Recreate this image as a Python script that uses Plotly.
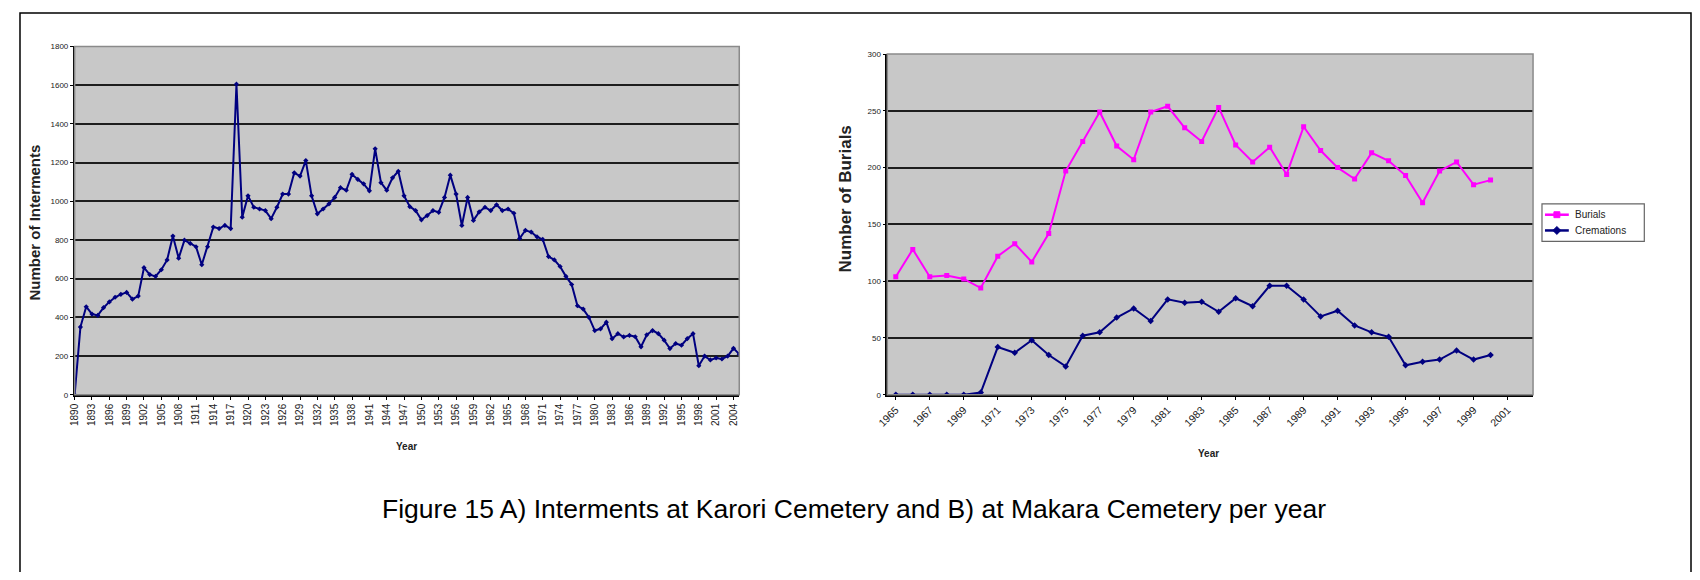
import plotly.graph_objects as go

# ---------------- data ----------------
karori_years = list(range(1890, 2006))
karori_interments = [
    0, 350, 455, 417, 410, 450, 480, 504, 519, 529,
    494, 510, 657, 621, 612, 646, 697, 820, 706, 799,
    782, 765, 672, 765, 867, 859, 875, 859, 1605, 918,
    1028, 969, 960, 952, 910, 969, 1037, 1037, 1147, 1130,
    1210, 1028, 935, 960, 986, 1020, 1070, 1057, 1139, 1113,
    1090, 1054, 1271, 1096, 1057, 1121, 1155, 1028, 972, 952,
    904, 926, 952, 943, 1020, 1135, 1037, 875, 1020, 901,
    945, 969, 952, 982, 952, 960, 938, 808, 850, 841,
    816, 803, 714, 697, 663, 612, 570, 460, 443, 400,
    332, 341, 375, 290, 316, 299, 307, 300, 248, 310,
    332, 316, 282, 239, 265, 256, 290, 316, 150, 200,
    180, 190, 185, 200, 240, 210,
]
karori_ticks = karori_years[::3]

makara_categories = list(range(1965, 2003))
makara_years = makara_categories[:36]
makara_burials = [
    104, 128, 104, 105, 102, 94, 122, 133, 117, 142,
    197, 223, 249, 219, 207, 249, 254, 235, 223, 253,
    220, 205, 218, 194, 236, 215, 200, 190, 213, 206,
    193, 169, 197, 205, 185, 189,
]
makara_cremations = [
    0, 0, 0, 0, 0, 2, 42, 37, 48, 35,
    25, 52, 55, 68, 76, 65, 84, 81, 82, 73,
    85, 78, 96, 96, 84, 69, 74, 61, 55, 51,
    26, 29, 31, 39, 31, 35,
]
makara_ticks = makara_categories[::2]
series_names = ["Burials", "Cremations"]

# figure sized to fit the 1700x580 window inside the page's 8px body margin
OFF = 8
FW, FH = 1700 - 2 * OFF, 580 - 2 * OFF
FONT = "Liberation Sans, Arial, sans-serif"
NAVY = "#000080"
MAGENTA = "#FF00FF"
PLOT_BG = "#C8C8C8"
GRID = "#1e1e1e"


def px_x(x):
    return (x - OFF) / FW


def px_y(y):
    return 1 - (y - OFF) / FH


fig = go.Figure()

fig.add_trace(go.Scatter(
    x=karori_years, y=karori_interments, mode="lines+markers",
    line=dict(color=NAVY, width=2), marker=dict(symbol="diamond", size=4, color=NAVY),
    showlegend=False, xaxis="x", yaxis="y",
))

series_styles = [
    dict(color=MAGENTA, symbol="square", values=makara_burials),
    dict(color=NAVY, symbol="diamond", values=makara_cremations),
]
for name, st in zip(series_names, series_styles):
    fig.add_trace(go.Scatter(
        x=makara_years, y=st["values"], mode="lines+markers", name=name,
        line=dict(color=st["color"], width=2),
        marker=dict(symbol=st["symbol"], size=5, color=st["color"]),
        showlegend=False, xaxis="x2", yaxis="y2",
    ))

tickfont_small = dict(family=FONT, size=8, color="#222")

fig.update_layout(
    width=FW, height=FH,
    margin=dict(l=0, r=0, t=0, b=0),
    paper_bgcolor="white",
    plot_bgcolor=PLOT_BG,
    font=dict(family=FONT, color="#222"),
    showlegend=False,
    xaxis=dict(
        domain=[px_x(64), px_x(733)], anchor="y",
        range=[karori_years[0], karori_years[-1]],
        tickmode="array", tickvals=karori_ticks, ticktext=[str(t) for t in karori_ticks],
        tickangle=-90, tickfont=dict(family=FONT, size=10, color="#222"),
        showgrid=False, showline=True, linecolor="black", linewidth=2,
        ticks="outside", ticklen=3, tickcolor="black", zeroline=False,
    ),
    yaxis=dict(
        domain=[px_y(397), px_y(43)], anchor="x",
        range=[0, 1800], dtick=200, tickfont=tickfont_small,
        showgrid=True, gridcolor=GRID, gridwidth=1.5,
        showline=True, linecolor="black", linewidth=1.5,
        ticks="outside", ticklen=3, tickcolor="black", zeroline=False,
    ),
    xaxis2=dict(
        domain=[px_x(882), px_x(1532)], anchor="y2",
        range=[makara_categories[0] - 0.5, makara_categories[-1] + 0.5],
        tickmode="array", tickvals=makara_ticks, ticktext=[str(t) for t in makara_ticks],
        tickangle=-45, tickfont=dict(family=FONT, size=10.5, color="#222"),
        showgrid=False, showline=True, linecolor="black", linewidth=2,
        ticks="outside", ticklen=3, tickcolor="black", zeroline=False,
    ),
    yaxis2=dict(
        domain=[px_y(397), px_y(50.7)], anchor="x2",
        range=[0, 300], dtick=50, tickfont=tickfont_small,
        showgrid=True, gridcolor=GRID, gridwidth=1.5,
        showline=True, linecolor="black", linewidth=1.5,
        ticks="outside", ticklen=3, tickcolor="black", zeroline=False,
    ),
)

# plot-area borders (top/right in gray)
for x0, x1, y0, y1 in [(64, 733, 43, 397), (882, 1532, 50.7, 397)]:
    fig.add_shape(type="rect", xref="paper", yref="paper",
                  x0=px_x(x0), x1=px_x(x1), y0=px_y(y1), y1=px_y(y0),
                  line=dict(color="#8a8a8a", width=1.5), layer="above")

# outer frame (left, top, right)
fig.add_shape(type="path", xref="paper", yref="paper",
              path=f"M {px_x(9)} -0.1 L {px_x(9)} {px_y(9)} L {px_x(1691)} {px_y(9)} L {px_x(1691)} -0.1",
              line=dict(color="black", width=1.5))

# ---- compact legend box (Excel style) ----
fig.add_shape(type="rect", xref="paper", yref="paper",
              x0=px_x(1541), x1=px_x(1644), y0=px_y(241), y1=px_y(203),
              line=dict(color="#666", width=1.2), fillcolor="white")
for i, (name, st) in enumerate(zip(series_names, series_styles)):
    yy = 214 + i * 16
    fig.add_shape(type="line", xref="paper", yref="paper",
                  x0=px_x(1544), x1=px_x(1568), y0=px_y(yy), y1=px_y(yy),
                  line=dict(color=st["color"], width=2.5))
    cx, cy = 1556, yy
    if st["symbol"] == "square":
        fig.add_shape(type="rect", xref="paper", yref="paper",
                      x0=px_x(cx - 3), x1=px_x(cx + 3), y0=px_y(cy + 3), y1=px_y(cy - 3),
                      line=dict(color=st["color"], width=1), fillcolor=st["color"])
    else:
        fig.add_shape(type="path", xref="paper", yref="paper",
                      path=(f"M {px_x(cx - 4)} {px_y(cy)} L {px_x(cx)} {px_y(cy - 4)} "
                            f"L {px_x(cx + 4)} {px_y(cy)} L {px_x(cx)} {px_y(cy + 4)} Z"),
                      line=dict(color=st["color"], width=1), fillcolor=st["color"])
    fig.add_annotation(text=name, x=px_x(1572), y=px_y(yy), xref="paper", yref="paper",
                       showarrow=False, xanchor="left", yanchor="middle",
                       font=dict(family=FONT, size=10, color="#222"))

ann = [
    dict(text="<b>Number of Interments</b>", x=px_x(24), y=px_y(222), textangle=-90, size=15),
    dict(text="<b>Year</b>", x=px_x(398), y=px_y(450), textangle=0, size=10),
    dict(text="<b>Number of Burials</b>", x=px_x(840), y=px_y(198), textangle=-90, size=17),
    dict(text="<b>Year</b>", x=px_x(1205), y=px_y(457), textangle=0, size=10),
    dict(text="Figure 15 A) Interments at Karori Cemetery and B) at Makara Cemetery per year",
         x=px_x(848), y=px_y(513), textangle=0, size=26.5),
]
for a in ann:
    fig.add_annotation(text=a["text"], x=a["x"], y=a["y"], xref="paper", yref="paper",
                       showarrow=False, textangle=a["textangle"],
                       xanchor="center", yanchor="middle",
                       font=dict(family=FONT, size=a["size"], color="#222" if a["size"] < 20 else "black"))

fig.write_html("out.html")
